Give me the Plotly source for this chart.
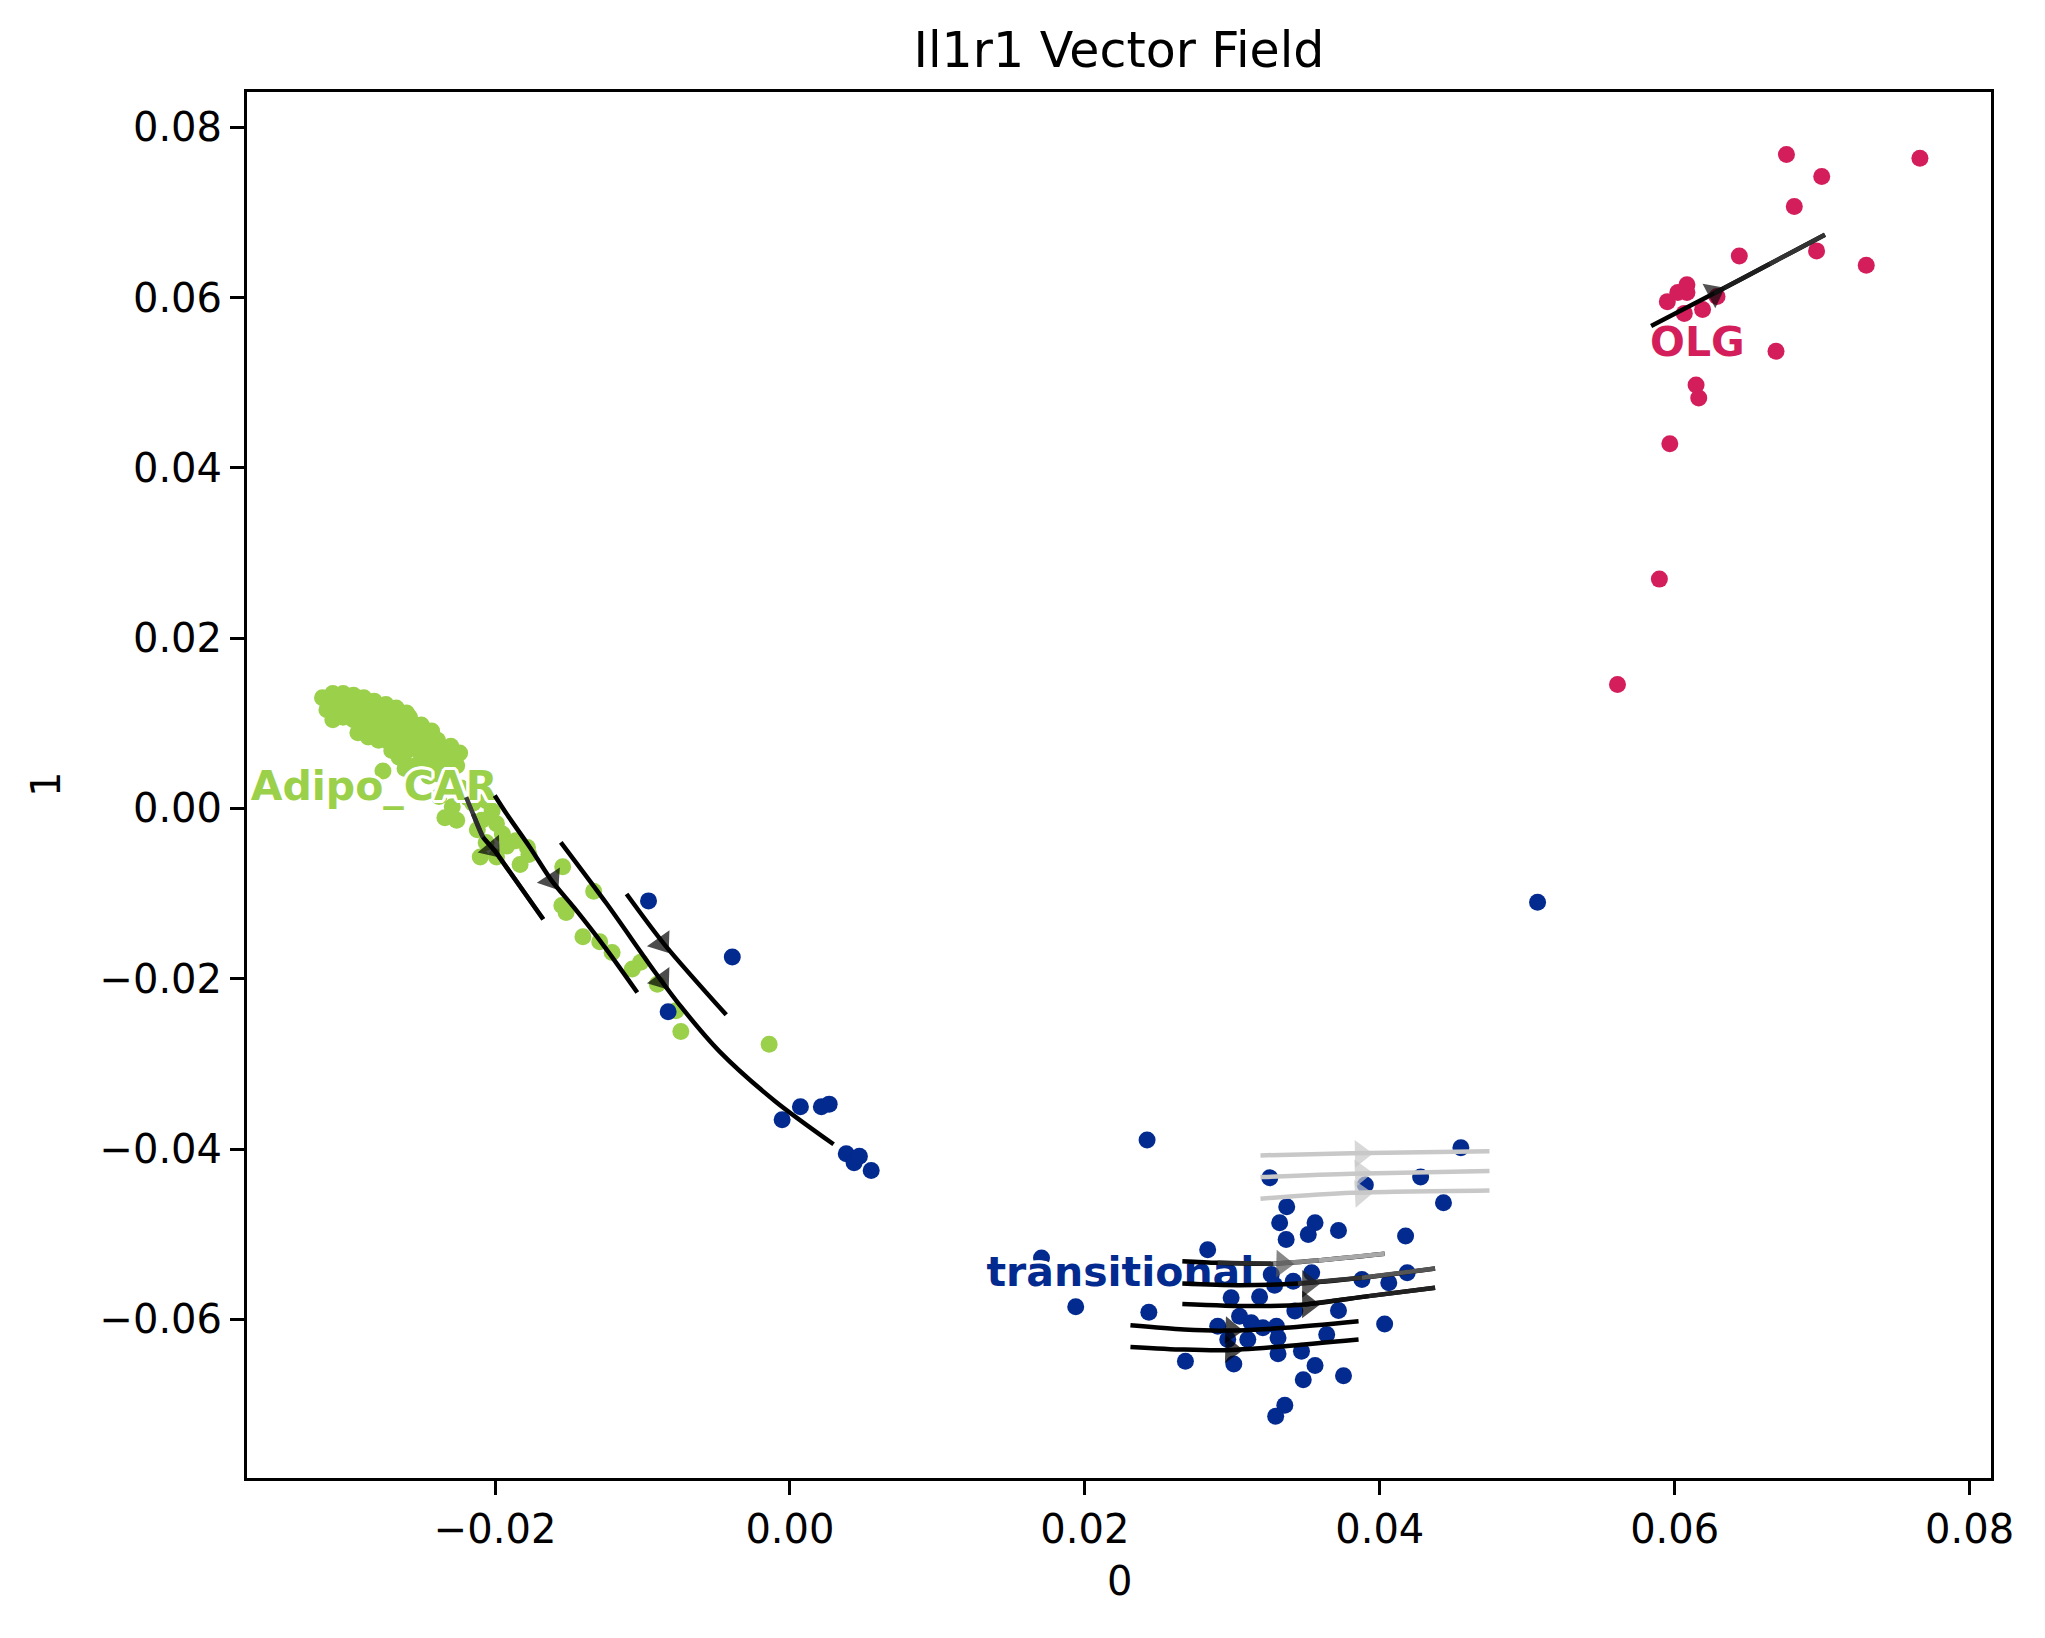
import plotly.graph_objects as go

# ---------------- data ----------------
adipo_x = [-0.0317, -0.0310, -0.0303, -0.0296, -0.0289, -0.0282, -0.0274, -0.0267, -0.0260,
           -0.0314, -0.0306, -0.0299, -0.0292, -0.0285, -0.0278, -0.0271, -0.0264, -0.0257,
           -0.0310, -0.0303, -0.0296, -0.0289, -0.0282, -0.0274, -0.0267, -0.0260, -0.0253, -0.0246,
           -0.0293, -0.0286, -0.0279, -0.0272, -0.0266, -0.0258, -0.0251, -0.0244, -0.0237, -0.0232,
           -0.0227, -0.0265, -0.0261, -0.0250, -0.0241, -0.0235, -0.0254,
           -0.0313, -0.0300, -0.0286, -0.0272, -0.0258, -0.0250, -0.0243, -0.0239, -0.0230, -0.0224,
           -0.0306, -0.0295, -0.0284, -0.0276, -0.0268, -0.0262, -0.0255, -0.0248, -0.0283, -0.0270,
           -0.0262, -0.0276, -0.0257, -0.0246, -0.0240, -0.0270, -0.0262, -0.0250, -0.0244, -0.0238,
           -0.0232, -0.0226,
           -0.0276, -0.0245, -0.0232, -0.0223, -0.0238, -0.0229, -0.0215, -0.0206, -0.0234, -0.0226,
           -0.0209, -0.0202, -0.0199, -0.0206, -0.0210, -0.0199, -0.0186, -0.0178, -0.0183, -0.0177,
           -0.0192, -0.0218, -0.0212, -0.0195,
           -0.01541, -0.01331, -0.01547, -0.01518, -0.01404, -0.01290, -0.01206, -0.01069, -0.01013,
           -0.00899, -0.00773, -0.00740, -0.00141]
adipo_y = [0.0130, 0.0135, 0.0135, 0.0133, 0.0130, 0.0126, 0.0122, 0.0118, 0.0112,
           0.0116, 0.0119, 0.0119, 0.0118, 0.0115, 0.0112, 0.0107, 0.0103, 0.0100,
           0.0104, 0.0107, 0.0104, 0.0101, 0.0098, 0.0095, 0.0092, 0.0089, 0.0090, 0.0084,
           0.0089, 0.0084, 0.0080, 0.0078, 0.0073, 0.0078, 0.0075, 0.0072, 0.0069, 0.0063,
           0.0057, 0.0060, 0.0047, 0.0063, 0.0058, 0.0050, 0.0050,
           0.0124, 0.0127, 0.0123, 0.0116, 0.0107, 0.0098, 0.0091, 0.0080, 0.0073, 0.0065,
           0.0111, 0.0110, 0.0107, 0.0103, 0.0099, 0.0096, 0.0083, 0.0079, 0.0093, 0.0086,
           0.0082, 0.0088, 0.0070, 0.0066, 0.0063, 0.0068, 0.0062, 0.0055, 0.0047, 0.0040,
           0.0045, 0.0050,
           0.0044, 0.0038, 0.0032, 0.0024, 0.0014, 0.0002, 0.0006, 0.0009, -0.0011, -0.0014,
           -0.0014, -0.0003, -0.0018, -0.0040, -0.0057, -0.0057, -0.0038, -0.0046, -0.0066, -0.0054,
           -0.0044, 0.0012, -0.0025, -0.0030,
           -0.00684, -0.00973, -0.01141, -0.01221, -0.01507, -0.01565, -0.01691, -0.01886, -0.01808,
           -0.02064, -0.02376, -0.02619, -0.02769]

olg_x = [0.06758, 0.07663, 0.06997, 0.06811, 0.06438, 0.06962, 0.07299, 0.06687, 0.06145, 0.06163,
         0.05950, 0.06021, 0.06083, 0.06083, 0.06189, 0.06287, 0.06065, 0.05967, 0.05896, 0.05612]
olg_y = [0.07681, 0.07635, 0.07421, 0.07069, 0.06487, 0.06548, 0.06380, 0.05370, 0.04973, 0.04820,
         0.05952, 0.06059, 0.06151, 0.06059, 0.05860, 0.06013, 0.05814, 0.04284, 0.02693, 0.01454]

trans_x = [-0.00959, -0.00391, -0.00826, -0.00053, 0.00071, 0.00213, 0.00266, 0.00382, 0.00435,
           0.00471, 0.00551, 0.05070,
           0.02422, 0.01706, 0.01938, 0.02434, 0.02682, 0.02833, 0.03254, 0.03369, 0.03321, 0.03365,
           0.03561, 0.03515, 0.03720, 0.03902, 0.04277, 0.04550, 0.04432, 0.04175, 0.03264, 0.03287,
           0.03413, 0.03538, 0.03879, 0.04061, 0.04186, 0.02992, 0.03185, 0.03424, 0.03720, 0.04033,
           0.02901, 0.03049, 0.03128, 0.03207, 0.03299, 0.02969, 0.03105, 0.03310, 0.03640, 0.03310,
           0.03469, 0.03010, 0.03561, 0.03481, 0.03754, 0.03356, 0.03294]
trans_y = [-0.01086, -0.01744, -0.02387, -0.03657, -0.03504, -0.03504, -0.03473, -0.04055, -0.04162,
           -0.04085, -0.04253, -0.01102,
           -0.03894, -0.05279, -0.05854, -0.05917, -0.06493, -0.05184, -0.04338, -0.04677, -0.04865,
           -0.05063, -0.04865, -0.05003, -0.04956, -0.04423, -0.04328, -0.03984, -0.04631, -0.05023,
           -0.05474, -0.05600, -0.05552, -0.05454, -0.05533, -0.05572, -0.05454, -0.05748, -0.05736,
           -0.05904, -0.05897, -0.06054, -0.06082, -0.05964, -0.06042, -0.06100, -0.06082, -0.06238,
           -0.06238, -0.06218, -0.06180, -0.06406, -0.06376, -0.06524, -0.06544, -0.06709, -0.06662,
           -0.07010, -0.07139]

cluster_names = ["Adipo_CAR", "transitional", "OLG"]
label_x = [-0.02821, 0.02241, 0.06154]
label_y = [0.00215, -0.05485, 0.05430]

# streamlines (data coordinates)
stream_x = [
    [-0.02196, -0.02149, -0.02082, -0.02002, -0.01923, -0.01673],
    [-0.02002, -0.01923, -0.01764, -0.01616, -0.01465, -0.01252, -0.01035],
    [-0.01554, -0.01241, -0.00922, -0.00740, -0.00480, -0.00103, 0.00296],
    [-0.01108, -0.00853, -0.00432],
    [0.03191, 0.03810, 0.04744],
    [0.03191, 0.03810, 0.04744],
    [0.03191, 0.03810, 0.04744],
    [0.02661, 0.02901, 0.03277, 0.03583, 0.04033],
    [0.02661, 0.03037, 0.03445, 0.03879, 0.04375],
    [0.02661, 0.03128, 0.03491, 0.03924, 0.04375],
    [0.02309, 0.02673, 0.02946, 0.03356, 0.03856],
    [0.02309, 0.02673, 0.02946, 0.03356, 0.03856],
    [0.05840, 0.06268, 0.06644, 0.07019],
]
stream_y = [
    [0.00132, -0.00064, -0.00337, -0.00496, -0.00689, -0.01302],
    [0.00151, -0.00061, -0.00456, -0.00848, -0.01163, -0.01637, -0.02162],
    [-0.00398, -0.01123, -0.01906, -0.02326, -0.02850, -0.03435, -0.03944],
    [-0.01005, -0.01593, -0.02424],
    [-0.04075, -0.04050, -0.04027],
    [-0.04330, -0.04290, -0.04258],
    [-0.04584, -0.04514, -0.04486],
    [-0.05317, -0.05337, -0.05347, -0.05309, -0.05231],
    [-0.05581, -0.05600, -0.05581, -0.05513, -0.05403],
    [-0.05819, -0.05845, -0.05826, -0.05728, -0.05630],
    [-0.06070, -0.06120, -0.06133, -0.06100, -0.06022],
    [-0.06324, -0.06356, -0.06363, -0.06316, -0.06238],
    [0.05667, 0.06051, 0.06394, 0.06738],
]
# arrowheads: (previous point, arrow centre)
arrow_prev_x = [-0.02082, -0.01764, -0.01241, -0.01108, 0.03191, 0.03191, 0.03191,
                0.02661, 0.02661, 0.02661, 0.02309, 0.02309, 0.05840]
arrow_prev_y = [-0.00337, -0.00459, -0.01123, -0.01005, -0.04075, -0.04330, -0.04584,
                -0.05317, -0.05581, -0.05819, -0.06070, -0.06324, 0.05667]
arrow_x = [-0.02020, -0.01616, -0.00870, -0.00870, 0.03872, 0.03872, 0.03872,
           0.03339, 0.03514, 0.03514, 0.02993, 0.02993, 0.06268]
arrow_y = [-0.00467, -0.00842, -0.02014, -0.01582, -0.04055, -0.04284, -0.04523,
           -0.05347, -0.05583, -0.05826, -0.06129, -0.06356, 0.06051]

xtick_vals = [-0.02, 0.0, 0.02, 0.04, 0.06, 0.08]
ytick_vals = [-0.06, -0.04, -0.02, 0.0, 0.02, 0.04, 0.06, 0.08]

# ---------------- styles ----------------
GREEN = "#9bd04b"
BLUE = "#032a8f"
RED = "#d41e5c"
cluster_colors = [GREEN, BLUE, RED]
LG = "#c8c8c8"
seg_colors = [
    ["#3c3c3c", "#2a2a2a", "#000000", "#000000", "#000000"],
    ["#000000"] * 6,
    ["#000000"] * 6,
    ["#000000"] * 2,
    [LG, LG], [LG, LG], [LG, LG],
    ["#000000", "#2a2a2a", "#8a8a8a", "#a8a8a8"],
    ["#000000", "#000000", "#333333", "#555555"],
    ["#000000", "#000000", "#111111", "#222222"],
    ["#000000"] * 4,
    ["#000000"] * 4,
    ["#000000", "#1e1e1e", "#333333"],
]
arrow_colors = ["#000000", "#000000", "#000000", "#000000", LG, LG, LG,
                "#555555", "#1e1e1e", "#000000", "#000000", "#000000", "#0a0a0a"]

FONT = "DejaVu Sans"
PAGE_PAD = 8  # default body margin of the page
W, H = 2045 - 2 * PAGE_PAD, 1638 - 2 * PAGE_PAD

fig = go.Figure()

for xs, ys, col in [(adipo_x, adipo_y, GREEN), (olg_x, olg_y, RED), (trans_x, trans_y, BLUE)]:
    fig.add_trace(go.Scatter(x=xs, y=ys, mode="markers",
                             marker=dict(size=17, color=col, line=dict(width=0)),
                             showlegend=False, hoverinfo="skip"))

shadow = ", ".join(f"{dx}px {dy}px 0 #ffffff" for dx, dy in
                   [(3, 0), (-3, 0), (0, 3), (0, -3), (2, 2), (-2, -2), (2, -2), (-2, 2),
                    (3, 1), (-3, 1), (3, -1), (-3, -1), (1, 3), (-1, 3), (1, -3), (-1, -3)])
for name, lx, ly, col in zip(cluster_names, label_x, label_y, cluster_colors):
    fig.add_trace(go.Scatter(x=[lx], y=[ly], mode="text", text=[name],
                             textposition="middle center",
                             textfont=dict(family=FONT, size=41, color=col, weight="bold",
                                           shadow=shadow),
                             showlegend=False, hoverinfo="skip"))

for xs, ys, cols in zip(stream_x, stream_y, seg_colors):
    fig.add_trace(go.Scatter(x=xs, y=ys, mode="lines",
                             line=dict(color=cols[0], width=4.5, shape="spline", smoothing=0.8),
                             showlegend=False, hoverinfo="skip"))
    for i in range(len(xs) - 1):
        if cols[i] != cols[0]:
            fig.add_trace(go.Scatter(x=xs[i:i + 2], y=ys[i:i + 2], mode="lines",
                                     line=dict(color=cols[i], width=4.5),
                                     showlegend=False, hoverinfo="skip"))

for px, py, ax, ay, col in zip(arrow_prev_x, arrow_prev_y, arrow_x, arrow_y, arrow_colors):
    fig.add_trace(go.Scatter(x=[px, ax], y=[py, ay], mode="markers",
                             marker=dict(symbol="triangle-up", size=[0, 24], color=col,
                                         angleref="previous", line=dict(width=0)),
                             showlegend=False, hoverinfo="skip"))

axis_common = dict(showgrid=False, zeroline=False, showline=True, linecolor="black", linewidth=3,
                   mirror=True, ticks="outside", ticklen=14, tickwidth=3, tickcolor="black",
                   tickformat=".2f", tickfont=dict(family=FONT, size=40, color="black"))

plot_h = H - (92 - PAGE_PAD) - (H + PAGE_PAD - 1478)
fig.update_layout(
    width=W, height=H,
    margin=dict(l=247 - PAGE_PAD, r=W + PAGE_PAD - 1991, t=92 - PAGE_PAD, b=H + PAGE_PAD - 1478),
    paper_bgcolor="white", plot_bgcolor="white",
    title=dict(text="Il1r1 Vector Field", x=0.5, xref="paper", xanchor="center",
               y=1 - (50 - PAGE_PAD) / H, yref="container", yanchor="middle",
               font=dict(family=FONT, size=49, color="black")),
    xaxis=dict(range=[-0.03682, 0.08145], tickvals=xtick_vals, **axis_common),
    yaxis=dict(range=[-0.07864, 0.08414], tickvals=ytick_vals, **axis_common),
    annotations=[
        dict(text="0", x=0.5, y=-(1581 - 1478) / plot_h, xref="paper", yref="paper", showarrow=False,
             xanchor="center", yanchor="middle", font=dict(family=FONT, size=40, color="black")),
        dict(text="1", x=(46 - 247) / (1991 - 247), y=0.5, xref="paper", yref="paper", showarrow=False,
             textangle=-90, xanchor="center", yanchor="middle",
             font=dict(family=FONT, size=40, color="black")),
    ],
)

fig.write_html("out.html")
